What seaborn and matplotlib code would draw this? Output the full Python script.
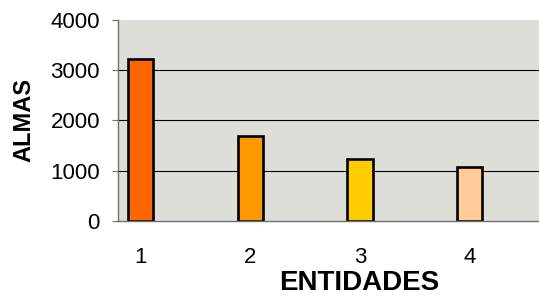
import pandas as pd
import seaborn as sns
import matplotlib.pyplot as plt

# Data
entidades = ['1', '2', '3', '4']
almas = [3220, 1690, 1240, 1075]
bar_colors = ['#FF6600', '#FF9900', '#FFCC00', '#FFCC99']
y_ticks = [0, 1000, 2000, 3000, 4000]

df = pd.DataFrame({'Entidades': entidades, 'Almas': almas})

sns.set_theme(style='white')
plt.rcParams['font.family'] = ['Liberation Sans', 'DejaVu Sans']
plt.rcParams['text.color'] = 'black'
plt.rcParams['axes.labelcolor'] = 'black'
plt.rcParams['xtick.color'] = 'black'
plt.rcParams['ytick.color'] = 'black'

fig = plt.figure(figsize=(5.39, 3.01), dpi=100)
ax = fig.add_axes([0.219, 0.266, 0.781, 0.668])
ax.set_facecolor('#DEDED9')

# Gridlines behind the bars (no line at 0 or 4000)
ax.hlines(y_ticks[1:-1], -1, 5, colors='black', linewidth=0.8, zorder=0)

sns.barplot(data=df, x='Entidades', y='Almas', hue='Entidades',
            palette=bar_colors, saturation=1, width=0.23, edgecolor='black',
            linewidth=1.9, legend=False, ax=ax, zorder=2)

ax.set_ylim(0, 4000)
ax.set_xlim(-0.207, 3.634)
ax.set_yticks(y_ticks)

for side in ['top', 'right']:
    ax.spines[side].set_visible(False)
for side in ['left', 'bottom']:
    ax.spines[side].set_color('#707070')
    ax.spines[side].set_linewidth(1.0)

ax.tick_params(axis='y', length=4.5, width=0.8, color='#707070', pad=8.5,
               labelsize=16, labelcolor='black', left=True)
ax.tick_params(axis='x', length=0, pad=18.5, labelsize=16, labelcolor='black')

ax.set_ylabel('ALMAS', fontsize=17, fontweight='bold')
ax.yaxis.set_label_coords(-0.196, 0.5)
ax.set_xlabel('ENTIDADES', fontsize=20, fontweight='bold')
ax.xaxis.set_label_coords(0.574, -0.245)

fig.savefig('out.png', dpi=100)
